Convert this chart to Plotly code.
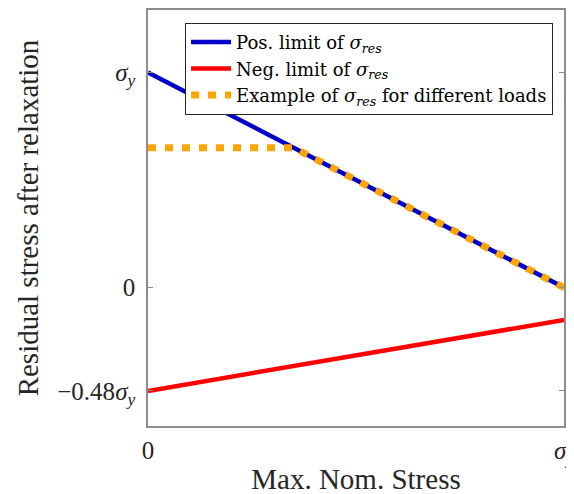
import plotly.graph_objects as go

# Data (in units of sigma_y)
x_pos = [0.0, 1.0]
y_pos = [1.0, 0.0]
x_neg = [0.0, 1.0]
y_neg = [-0.48, -0.15]
x_ex = [0.0, 0.35, 1.0]
y_ex = [0.65, 0.65, 0.0]

ytick_vals = [-0.48, 0.0, 1.0]
ytick_text = ["\u22120.48<i>σ</i><sub><i>y</i></sub>", "0", "<i>σ</i><sub><i>y</i></sub>"]
xtick_vals = [0.0, 1.0]
xtick_text = ["0", "<i>σ</i><sub><i>y</i></sub>"]

FONT = "Liberation Serif"
LFONT = "DejaVu Serif"
AXC = "#8c8c8c"
TXT = "#262626"

fig = go.Figure()
fig.add_trace(go.Scatter(x=x_pos, y=y_pos, mode="lines",
                         line=dict(color="#0000C8", width=4.5),
                         name="Pos. limit of <i>σ</i><sub><i>res</i></sub>"))
fig.add_trace(go.Scatter(x=x_neg, y=y_neg, mode="lines",
                         line=dict(color="#FF0000", width=4.5),
                         name="Neg. limit of <i>σ</i><sub><i>res</i></sub>"))
fig.add_trace(go.Scatter(x=x_ex, y=y_ex, mode="lines",
                         line=dict(color="#FFA500", width=7, dash="8px,9px"),
                         name="Example of <i>σ</i><sub><i>res</i></sub> for different loads"))

# page body has an 8px margin: shift margins to compensate
fig.update_layout(
    width=574, height=494,
    margin=dict(l=140, r=18, t=0, b=76),
    paper_bgcolor="white", plot_bgcolor="white",
    font=dict(family=FONT, color=TXT),
    showlegend=True,
    legend=dict(x=0.089, y=0.969, xanchor="left", yanchor="top",
                bgcolor="white", bordercolor=TXT, borderwidth=1,
                font=dict(family=LFONT, size=18, color="black"),
                tracegroupgap=0, itemwidth=40),
)
fig.update_xaxes(range=[0, 1], tickvals=xtick_vals, ticktext=xtick_text,
                 showgrid=False, zeroline=False,
                 showline=True, linecolor=AXC, linewidth=1.5, mirror="ticks",
                 ticks="inside", ticklen=5, tickcolor=AXC, ticklabelstandoff=1,
                 tickfont=dict(family=FONT, size=25, color=TXT),
                 title=dict(text="Max. Nom. Stress", font=dict(family=FONT, size=29, color=TXT),
                            standoff=2))
fig.update_yaxes(range=[-0.643, 1.29], tickvals=ytick_vals, ticktext=ytick_text,
                 showgrid=False, zeroline=False,
                 showline=True, linecolor=AXC, linewidth=1.5, mirror="ticks",
                 ticks="inside", ticklen=5, tickcolor=AXC, ticklabelstandoff=6,
                 tickfont=dict(family=FONT, size=25, color=TXT),
                 title=dict(text="Residual stress after relaxation",
                            font=dict(family=FONT, size=29, color=TXT),
                            standoff=10))

fig.write_html("out.html")
